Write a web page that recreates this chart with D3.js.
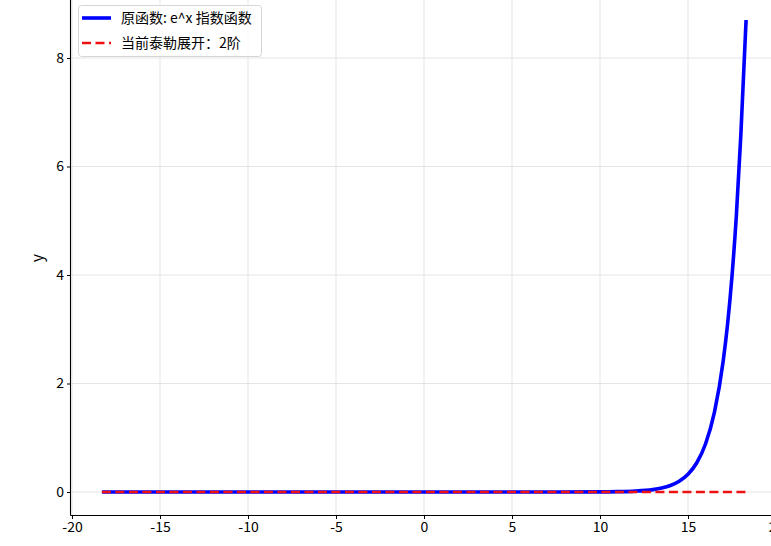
<!DOCTYPE html>
<html>
<head>
<meta charset="utf-8">
<script src="https://cdn.jsdelivr.net/npm/d3@7"></script>
<style>
  body { margin: 0; background: #fff; }
  svg text { font-family: "Noto Sans CJK SC", "Noto Sans", sans-serif; }
</style>
</head>
<body>
<script>
var width = 771,
    height = 546;

// x positions where the curves were read (y values in units of 1e7)
var xVals = [-18.3, -15, -10, -5, 0, 5, 10, 11, 12, 13, 13.5, 14, 14.5, 15, 15.5, 16, 16.5, 17, 17.25, 17.5, 17.75, 18, 18.3];
var expVals = [0, 0, 0, 0, 0, 0, 0.002, 0.006, 0.016, 0.044, 0.073, 0.12, 0.198, 0.327, 0.539, 0.889, 1.466, 2.415, 3.1, 3.98, 5.11, 6.57, 8.7];
var taylorX = [-18.3, -10, 0, 10, 18.3];
var taylorVals = [0, 0, 0, 0, 0];
var xTicks = [-20, -15, -10, -5, 0, 5, 10, 15, 20];
var yTicks = [0, 2, 4, 6, 8];
var legendLabels = ["原函数: e^x 指数函数", "当前泰勒展开：2阶"];

var plotLeft = 70.5, plotRight = 790, plotTop = -4, plotBottom = 515.5;

var x = d3.scaleLinear().domain([-20, 20]).range([72, 776]);
var y = d3.scaleLinear().domain([0, 8]).range([492, 58]);

var svg = d3.select("body").append("svg")
    .attr("width", width)
    .attr("height", height);

// grid
svg.append("g").selectAll("line")
    .data(xTicks)
    .enter().append("line")
        .attr("x1", function(d) { return x(d); })
        .attr("x2", function(d) { return x(d); })
        .attr("y1", plotTop)
        .attr("y2", plotBottom)
        .style("stroke", "#dedede")
        .style("stroke-width", 0.8);

svg.append("g").selectAll("line")
    .data(yTicks)
    .enter().append("line")
        .attr("x1", plotLeft)
        .attr("x2", plotRight)
        .attr("y1", function(d) { return y(d); })
        .attr("y2", function(d) { return y(d); })
        .style("stroke", "#dedede")
        .style("stroke-width", 0.8);

var line = d3.line()
    .x(function(d) { return x(d[0]); })
    .y(function(d) { return y(d[1]); })
    .curve(d3.curveMonotoneX);

svg.append("path")
    .datum(d3.zip(xVals, expVals))
    .attr("d", line)
    .style("fill", "none")
    .style("stroke", "#0000ff")
    .style("stroke-width", 3.6);

svg.append("path")
    .datum(d3.zip(taylorX, taylorVals))
    .attr("d", line)
    .style("fill", "none")
    .style("stroke", "#ee1111")
    .style("stroke-width", 2.6)
    .style("stroke-dasharray", "9,4.5");

// axes: spines only left and bottom
var fmt = function(d) { return String(d); };

var xAxis = svg.append("g")
    .attr("transform", "translate(0," + plotBottom + ")")
    .call(d3.axisBottom(x).tickValues(xTicks).tickFormat(fmt).tickSize(3.5).tickPadding(3).tickSizeOuter(0));
xAxis.select(".domain").attr("d", "M" + plotLeft + ",0H" + plotRight);

var yAxis = svg.append("g")
    .attr("transform", "translate(" + plotLeft + ",0)")
    .call(d3.axisLeft(y).tickValues(yTicks).tickFormat(fmt).tickSize(3.5).tickPadding(3).tickSizeOuter(0));
yAxis.select(".domain").attr("d", "M0," + plotTop + "V" + plotBottom);

[xAxis, yAxis].forEach(function(a) {
    a.select(".domain").style("stroke", "#000").style("stroke-width", 1.1);
    a.selectAll(".tick line").style("stroke", "#000");
    a.selectAll(".tick text")
        .style("font-size", "14px")
        .style("font-family", "'Noto Sans CJK SC', sans-serif")
        .style("fill", "#000");
});

svg.append("text")
    .attr("transform", "translate(43,258) rotate(-90)")
    .attr("text-anchor", "middle")
    .style("font-size", "16px")
    .text("y");

// legend
var legend = svg.append("g");
legend.append("rect")
    .attr("x", 78.5)
    .attr("y", 5.5)
    .attr("width", 183)
    .attr("height", 51)
    .attr("rx", 3)
    .style("fill", "#fff")
    .style("fill-opacity", 0.85)
    .style("stroke", "#d5d5d5");

var legendStyles = [
    { color: "#0000ff", width: 3.6, dash: null },
    { color: "#ee1111", width: 2.6, dash: "9,4.5" }
];

legend.selectAll(".item")
    .data(legendLabels)
    .enter().append("g")
        .attr("class", "item")
        .attr("transform", function(d, i) { return "translate(0," + (18 + i * 25) + ")"; })
        .each(function(d, i) {
            var g = d3.select(this);
            g.append("line")
                .attr("x1", 82).attr("x2", 111)
                .style("stroke", legendStyles[i].color)
                .style("stroke-width", legendStyles[i].width)
                .style("stroke-dasharray", legendStyles[i].dash);
            g.append("text")
                .attr("x", 121)
                .attr("dy", "0.35em")
                .style("font-size", "14px")
                .text(d);
        });
</script>
</body>
</html>
